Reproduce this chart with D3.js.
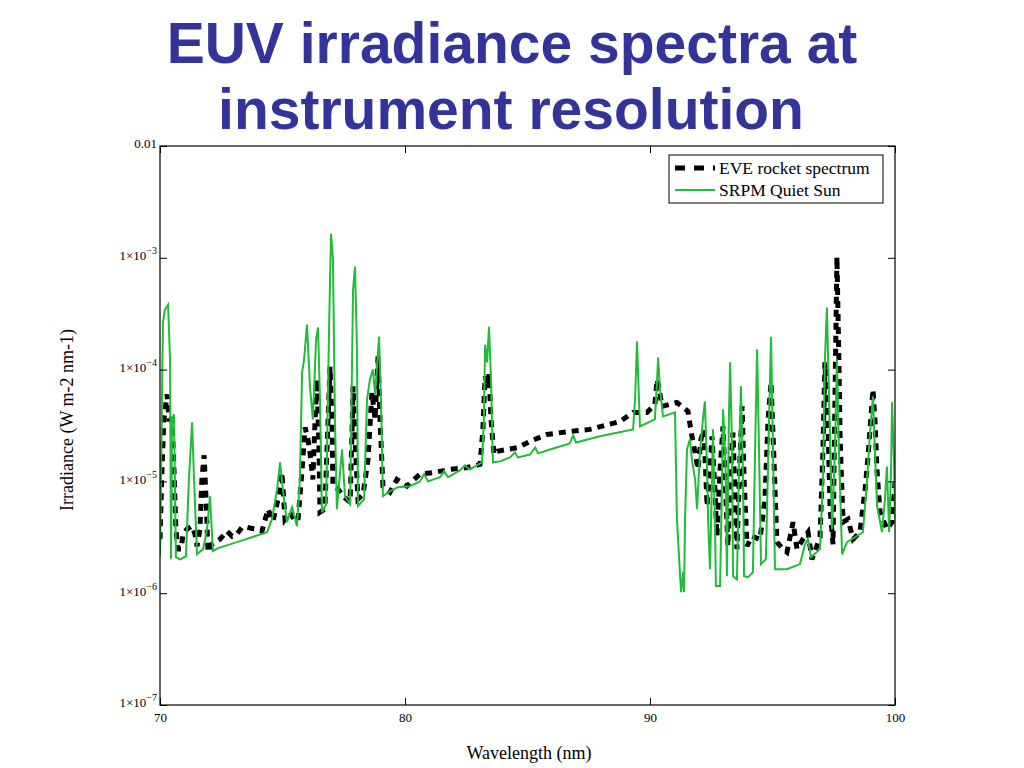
<!DOCTYPE html>
<html>
<head>
<meta charset="utf-8">
<title>EUV irradiance spectra</title>
<style>
  body { margin: 0; background: #fff; }
  svg { display: block; }
</style>
</head>
<body>
<script src="https://d3js.org/d3.v7.min.js"></script>
<script>
// EVE rocket spectrum (wavelength nm, irradiance W m-2 nm-1)
const eveWl = [70.00, 70.08, 70.16, 70.29, 70.37, 70.49, 70.57, 70.65, 70.73, 70.86, 70.94, 71.10, 71.31, 71.43, 71.51, 71.63, 71.71, 71.80, 71.88, 71.96,
  72.12, 72.45, 72.73, 72.94, 73.14, 73.35, 73.55, 73.88, 74.16, 74.41, 74.61, 74.82, 74.98, 75.10, 75.31, 75.47, 75.63, 75.80, 75.92, 76.04,
  76.12, 76.24, 76.33, 76.41, 76.49, 76.53, 76.73, 76.86, 76.94, 77.02, 77.06, 77.27, 77.47, 77.76, 77.84, 77.88, 77.96, 78.08, 78.29, 78.49,
  78.65, 78.78, 78.90, 78.98, 79.10, 79.39, 79.67, 80.08, 80.61, 81.14, 81.84, 82.53, 83.06, 83.18, 83.27, 83.35, 83.43, 83.51, 83.63, 83.76,
  84.61, 85.10, 85.80, 86.73, 87.55, 88.78, 89.31, 89.88, 90.20, 90.29, 90.41, 90.49, 91.10, 91.55, 91.71, 91.84, 91.96, 92.08, 92.20, 92.33,
  92.45, 92.53, 92.65, 92.73, 92.86, 92.98, 93.10, 93.18, 93.31, 93.39, 93.47, 93.55, 93.67, 93.76, 93.84, 93.96, 94.16, 94.49, 94.69, 94.82,
  94.94, 95.06, 95.18, 95.43, 95.59, 95.84, 96.00, 96.24, 96.45, 96.61, 96.94, 97.06, 97.14, 97.27, 97.35, 97.47, 97.55, 97.63, 97.71, 97.76,
  97.88, 98.08, 98.29, 98.57, 98.78, 98.90, 99.10, 99.18, 99.27, 99.39, 99.67, 99.88, 100.00];
const eveIrr = [3.04e-6, 1.28e-5, 3.59e-5, 6.00e-5, 3.59e-5, 3.59e-5, 1.28e-5, 3.74e-6, 2.48e-6, 2.48e-6, 3.37e-6, 3.74e-6, 3.98e-6, 3.37e-6, 2.63e-6, 3.74e-6, 1.04e-5, 1.71e-5, 6.93e-6, 2.33e-6,
  2.74e-6, 3.04e-6, 3.59e-6, 3.23e-6, 3.37e-6, 3.89e-6, 3.89e-6, 3.74e-6, 3.59e-6, 5.64e-6, 4.41e-6, 6.93e-6, 1.20e-5, 4.59e-6, 5.30e-6, 4.59e-6, 4.41e-6, 1.28e-5, 3.04e-5, 2.38e-5,
  1.82e-5, 1.04e-5, 3.59e-5, 8.17e-5, 1.93e-5, 5.30e-6, 5.64e-6, 3.59e-5, 1.06e-4, 3.59e-5, 9.06e-6, 8.52e-6, 7.37e-6, 6.52e-6, 2.92e-5, 7.08e-5, 2.38e-5, 6.93e-6, 7.68e-6, 1.57e-5,
  6.25e-5, 3.59e-5, 1.31e-4, 3.59e-5, 9.06e-6, 8.01e-6, 1.04e-5, 9.06e-6, 1.16e-5, 1.20e-5, 1.28e-5, 1.33e-5, 1.42e-5, 2.92e-5, 8.69e-5, 7.37e-5, 9.06e-5, 3.59e-5, 1.74e-5, 1.86e-5,
  2.01e-5, 2.28e-5, 2.63e-5, 2.80e-5, 2.92e-5, 3.44e-5, 4.14e-5, 4.14e-5, 4.88e-5, 8.17e-5, 6.00e-5, 4.69e-5, 5.09e-5, 4.23e-5, 2.53e-5, 1.82e-5, 1.28e-5, 2.38e-5, 2.92e-5, 6.00e-6,
  1.28e-5, 2.53e-5, 8.52e-6, 3.23e-6, 1.28e-5, 3.10e-5, 6.93e-6, 2.63e-6, 1.57e-5, 2.74e-5, 6.93e-6, 2.48e-6, 1.57e-5, 4.69e-5, 1.04e-5, 2.63e-6, 3.23e-6, 3.04e-6, 6.93e-6, 3.59e-5,
  7.68e-5, 1.57e-5, 2.86e-6, 2.48e-6, 2.33e-6, 4.32e-6, 2.48e-6, 3.04e-6, 3.51e-6, 2.01e-6, 3.17e-6, 1.93e-5, 1.16e-4, 2.92e-5, 5.64e-6, 2.74e-6, 5.41e-5, 1.02e-3, 1.23e-4, 2.38e-5,
  4.32e-6, 4.59e-6, 3.04e-6, 3.51e-6, 8.52e-6, 1.67e-5, 6.65e-5, 3.59e-5, 1.20e-5, 5.30e-6, 3.74e-6, 4.32e-6, 9.8e-6];

// SRPM Quiet Sun
const srpmWl = [70.00, 70.12, 70.20, 70.33, 70.41, 70.45, 70.49, 70.57, 70.65, 70.82, 71.06, 71.18, 71.31, 71.39, 71.51, 71.76, 71.92, 72.04, 72.16, 72.37,
  73.27, 74.37, 74.57, 74.78, 74.90, 75.06, 75.18, 75.39, 75.59, 75.71, 75.80, 75.88, 76.00, 76.12, 76.24, 76.37, 76.45, 76.53, 76.61, 76.78,
  76.90, 76.98, 77.06, 77.14, 77.22, 77.43, 77.55, 77.76, 77.88, 77.96, 78.04, 78.08, 78.33, 78.45, 78.57, 78.69, 78.78, 78.94, 79.02, 79.10,
  79.39, 79.71, 80.20, 80.61, 80.78, 80.94, 81.43, 81.59, 81.76, 82.24, 82.45, 82.65, 83.14, 83.22, 83.27, 83.35, 83.43, 83.51, 83.59, 83.88,
  84.29, 84.49, 84.61, 85.10, 85.31, 85.43, 85.92, 86.73, 86.86, 86.98, 87.96, 89.31, 89.39, 89.47, 89.55, 89.59, 90.20, 90.29, 90.33, 90.41,
  90.53, 91.02, 91.10, 91.22, 91.27, 91.35, 91.39, 91.43, 91.51, 91.63, 91.71, 91.84, 91.92, 92.04, 92.16, 92.24, 92.33, 92.37, 92.45, 92.53,
  92.57, 92.65, 92.69, 92.86, 92.94, 92.98, 93.06, 93.10, 93.14, 93.22, 93.27, 93.35, 93.39, 93.55, 93.63, 93.71, 93.80, 93.84, 94.00, 94.20,
  94.29, 94.37, 94.45, 94.53, 94.73, 94.86, 94.94, 95.02, 95.10, 95.59, 96.12, 96.33, 96.45, 96.57, 96.94, 97.06, 97.14, 97.22, 97.31, 97.43,
  97.55, 97.63, 97.71, 97.84, 98.04, 98.69, 98.86, 98.98, 99.10, 99.18, 99.27, 99.47, 99.59, 99.67, 99.76, 99.84, 99.88, 99.96, 100.00];
const srpmIrr = [2.14e-6, 2.63e-4, 3.44e-4, 3.81e-4, 1.23e-4, 2.01e-6, 3.59e-5, 3.98e-5, 2.10e-6, 2.01e-6, 2.14e-6, 1.04e-5, 3.37e-5, 1.04e-5, 2.23e-6, 2.48e-6, 3.74e-6, 7.37e-6, 2.38e-6, 2.53e-6,
  2.92e-6, 3.51e-6, 4.59e-6, 8.52e-6, 1.48e-5, 6.93e-6, 4.32e-6, 5.88e-6, 3.98e-6, 1.04e-5, 9.44e-5, 1.23e-4, 2.53e-4, 7.08e-5, 3.59e-5, 1.86e-4, 2.38e-4, 5.41e-5, 5.30e-6, 6.25e-6,
  2.28e-4, 1.64e-3, 9.64e-4, 3.59e-5, 5.64e-6, 1.93e-5, 7.37e-6, 6.25e-6, 5.19e-4, 8.34e-4, 1.51e-4, 6.00e-6, 6.93e-6, 5.41e-5, 8.17e-5, 1.00e-4, 6.00e-5, 1.97e-4, 5.41e-5, 7.37e-6,
  8.17e-6, 8.87e-6, 9.06e-6, 1.00e-5, 1.16e-5, 1.00e-5, 1.09e-5, 1.23e-5, 1.09e-5, 1.25e-5, 1.39e-5, 1.28e-5, 1.48e-5, 3.59e-5, 1.67e-4, 1.16e-4, 2.42e-4, 8.17e-5, 1.48e-5, 1.51e-5,
  1.64e-5, 1.82e-5, 1.64e-5, 1.74e-5, 2.01e-5, 1.78e-5, 1.93e-5, 2.19e-5, 2.58e-5, 2.23e-5, 2.53e-5, 2.92e-5, 5.41e-5, 1.78e-4, 5.41e-5, 3.10e-5, 3.59e-5, 8.17e-5, 1.28e-4, 6.65e-5,
  3.81e-5, 4.14e-5, 4.59e-6, 1.54e-6, 1.02e-6, 1.54e-6, 1.02e-6, 4.59e-6, 1.93e-5, 2.38e-5, 1.57e-5, 1.04e-5, 5.64e-6, 1.82e-5, 3.59e-5, 5.19e-5, 1.28e-5, 4.59e-6, 1.64e-6, 1.04e-5,
  2.92e-5, 4.59e-6, 1.16e-6, 1.16e-6, 1.04e-5, 4.41e-5, 1.93e-5, 9.06e-6, 1.42e-6, 3.59e-5, 1.16e-4, 1.93e-5, 1.42e-6, 1.33e-6, 1.28e-5, 7.08e-5, 1.04e-5, 1.42e-6, 1.39e-6, 1.54e-6,
  1.93e-5, 1.51e-4, 1.93e-5, 1.82e-6, 2.01e-6, 3.59e-5, 1.97e-4, 1.93e-5, 1.64e-6, 1.64e-6, 1.82e-6, 2.74e-6, 3.04e-6, 2.10e-6, 2.48e-6, 1.04e-5, 1.23e-4, 3.59e-4, 5.41e-5, 3.74e-6,
  1.93e-5, 1.23e-4, 1.93e-5, 2.23e-6, 2.86e-6, 3.51e-6, 1.04e-5, 2.74e-5, 5.76e-5, 1.93e-5, 6.00e-6, 3.51e-6, 6.93e-6, 1.36e-5, 3.51e-6, 1.28e-5, 5.09e-5, 1.57e-5, 4.59e-6];

const xTicks = [70, 80, 90, 100];
const yTicks = [1e-7, 1e-6, 1e-5, 1e-4, 1e-3, 1e-2];
const seriesNames = ["EVE rocket spectrum", "SRPM Quiet Sun"];

const width = 1024, height = 768;
const plotL = 160, plotR = 895, plotT = 146, plotB = 705;

const svg = d3.select("body").append("svg")
  .attr("width", width)
  .attr("height", height);

// title
const title = svg.append("text")
  .attr("text-anchor", "middle")
  .attr("font-family", "Liberation Sans, Arial, sans-serif")
  .attr("font-weight", "bold")
  .attr("font-size", 57)
  .attr("fill", "#333399");
title.append("tspan").attr("x", 512).attr("y", 63).text("EUV irradiance spectra at");
title.append("tspan").attr("x", 511).attr("y", 129).text("instrument resolution");

const x = d3.scaleLinear().domain([70, 100]).range([plotL, plotR]);
const y = d3.scaleLog().domain([1e-7, 1e-2]).range([plotB, plotT]);

svg.append("defs").append("clipPath").attr("id", "plot")
  .append("rect").attr("x", plotL).attr("y", plotT)
  .attr("width", plotR - plotL).attr("height", plotB - plotT);

const line = d3.line().x(d => x(d[0])).y(d => y(d[1]));
const evePts = eveWl.map((w, i) => [w, eveIrr[i]]);
const srpmPts = srpmWl.map((w, i) => [w, srpmIrr[i]]);

const g = svg.append("g").attr("clip-path", "url(#plot)");
g.append("path").datum(evePts)
  .attr("d", line)
  .attr("fill", "none")
  .attr("stroke", "#000")
  .attr("stroke-width", 5)
  .attr("stroke-dasharray", "7,6");
g.append("path").datum(srpmPts)
  .attr("d", line)
  .attr("fill", "none")
  .attr("stroke", "#22bb3a")
  .attr("stroke-width", 2);

// frame
svg.append("rect")
  .attr("x", plotL).attr("y", plotT)
  .attr("width", plotR - plotL).attr("height", plotB - plotT)
  .attr("fill", "none").attr("stroke", "#000").attr("stroke-width", 1.2);

const serif = "Liberation Serif, Times New Roman, serif";

// axes with inward ticks
const xAxis = svg.append("g").attr("transform", `translate(0,${plotB})`)
  .call(d3.axisBottom(x).tickValues(xTicks).tickSize(-7).tickPadding(8).tickFormat(d3.format("d")));
svg.append("g").attr("transform", `translate(0,${plotT})`)
  .call(d3.axisTop(x).tickValues(xTicks).tickSize(-7).tickFormat(""));
const yAxis = svg.append("g").attr("transform", `translate(${plotL},0)`)
  .call(d3.axisLeft(y).tickValues(yTicks).tickSize(-7).tickPadding(3).tickFormat(""));
svg.append("g").attr("transform", `translate(${plotR},0)`)
  .call(d3.axisRight(y).tickValues(yTicks).tickSize(-7).tickFormat(""));

svg.selectAll(".domain").remove();
svg.selectAll(".tick line").attr("stroke", "#000");
xAxis.selectAll("text")
  .attr("font-family", serif).attr("font-size", 13).attr("fill", "#000");

// y tick labels: 0.01 and 1x10^n
yAxis.selectAll(".tick").each(function (d) {
  const t = d3.select(this).select("text")
    .attr("font-family", serif).attr("font-size", 13).attr("fill", "#000")
    .attr("dy", "0.15em");
  const e = Math.round(Math.log10(d));
  if (e === -2) {
    t.text("0.01");
  } else {
    t.append("tspan").text("1\u00d710");
    t.append("tspan").attr("dy", "-0.6em").attr("font-size", 10).text("\u2212" + (-e));
  }
});

// axis titles
svg.append("text")
  .attr("x", 529).attr("y", 759)
  .attr("text-anchor", "middle")
  .attr("font-family", serif).attr("font-size", 18)
  .text("Wavelength (nm)");
svg.append("text")
  .attr("transform", "translate(73,420) rotate(-90)")
  .attr("text-anchor", "middle")
  .attr("font-family", serif).attr("font-size", 18)
  .text("Irradiance (W m-2 nm-1)");

// legend
const lg = svg.append("g").attr("transform", "translate(669,155)");
lg.append("rect").attr("width", 214).attr("height", 48)
  .attr("fill", "#fff").attr("stroke", "#000").attr("stroke-width", 1);
lg.append("line").attr("x1", 6).attr("x2", 46).attr("y1", 13).attr("y2", 13)
  .attr("stroke", "#000").attr("stroke-width", 5).attr("stroke-dasharray", "10,9");
lg.append("line").attr("x1", 6).attr("x2", 46).attr("y1", 35).attr("y2", 35)
  .attr("stroke", "#22bb3a").attr("stroke-width", 2);
lg.selectAll("text.lab").data(seriesNames).join("text")
  .attr("class", "lab")
  .attr("x", 50).attr("y", (d, i) => 19 + i * 22)
  .attr("font-family", serif).attr("font-size", 17.5)
  .text(d => d);
</script>
</body>
</html>
